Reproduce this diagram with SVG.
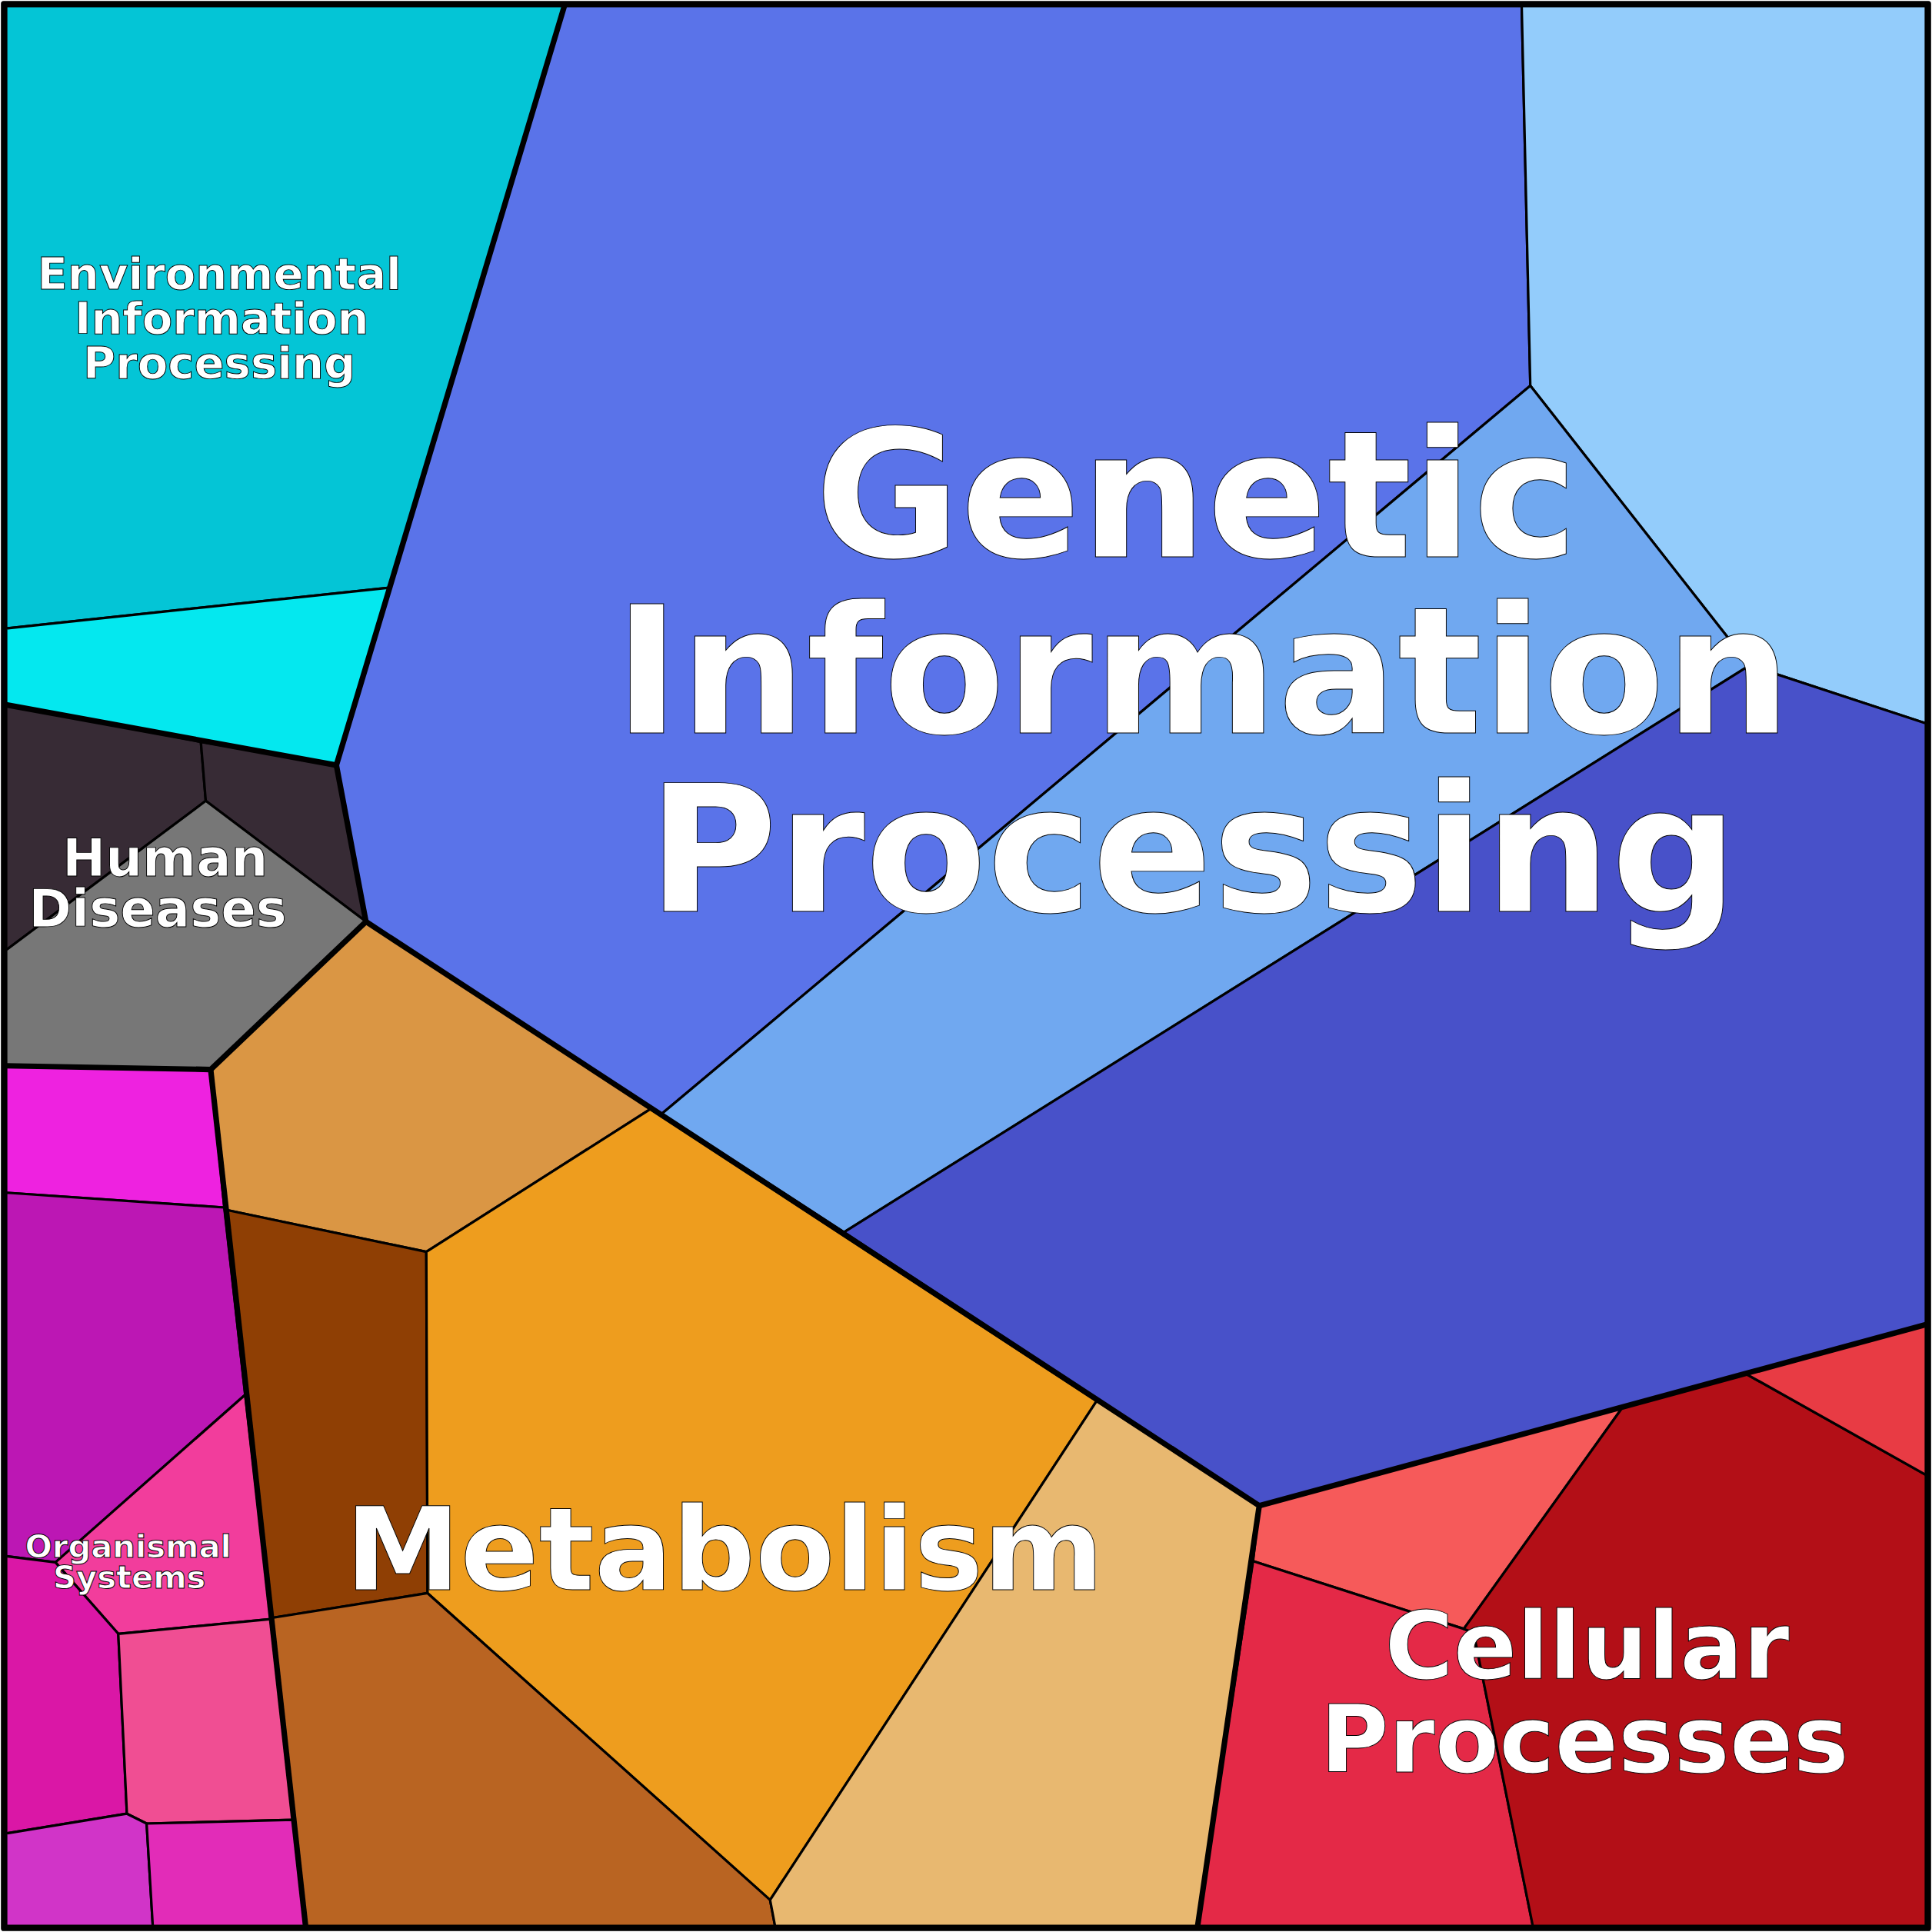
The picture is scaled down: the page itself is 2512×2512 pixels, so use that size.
<svg xmlns="http://www.w3.org/2000/svg" width="2512" height="2512" viewBox="0 0 2512 2512">
<style>
.c{stroke:#000;stroke-width:2;stroke-linejoin:round}
.b{fill:none;stroke:#000;stroke-width:4.5;stroke-linejoin:round}
text{font-family:"DejaVu Sans",sans-serif;font-weight:bold;fill:#fff;stroke:#000;stroke-width:0.6;text-anchor:middle}
</style>
<g transform="scale(1.60204)">
<g id="env">
<polygon class="c" fill="#04C5D6" points="5,5 458,5 316,477 5,510"/>
<polygon class="c" fill="#04E8EF" points="5,510 316,477 273,621 5,572"/>
</g>
<g id="human">
<polygon class="c" fill="#372B35" points="5,572 163,602 167,650 5,771"/>
<polygon class="c" fill="#372B35" points="163,602 273,621 297,748 167,650"/>
<polygon class="c" fill="#777777" points="5,771 167,650 297,748 171,868 5,865"/>
</g>
<g id="organismal">
<polygon class="c" fill="#EE22E0" points="5,865 171,868 182,980 5,968"/>
<polygon class="c" fill="#BC17B4" points="5,968 182,980 199,1132 45,1268 5,1263"/>
<polygon class="c" fill="#F23D9C" points="199,1132 220,1314 96,1326 45,1268"/>
<polygon class="c" fill="#DA17A6" points="5,1263 45,1268 96,1326 103,1472 5,1488"/>
<polygon class="c" fill="#F04E93" points="96,1326 220,1314 238,1477 119,1480 103,1472"/>
<polygon class="c" fill="#D134C8" points="5,1488 103,1472 119,1480 124,1563 5,1563"/>
<polygon class="c" fill="#E22CB8" points="119,1480 238,1477 248,1563 124,1563"/>
</g>
<g id="metabolism">
<polygon class="c" fill="#DA9644" points="171,868 297,748 528,900 346,1016 184,982"/>
<polygon class="c" fill="#8F3F04" points="184,982 346,1016 347,1293 221,1313"/>
<polygon class="c" fill="#EE9D1E" points="346,1016 528,900 890,1137 625,1542 347,1293"/>
<polygon class="c" fill="#B96422" points="221,1313 347,1293 625,1542 629,1563 248,1563"/>
<polygon class="c" fill="#E8B870" points="890,1137 1022,1222 972,1563 629,1563 625,1542"/>
</g>
<g id="genetic">
<polygon class="c" fill="#5A73E9" points="458,5 1235,5 1242,313 537,904 297,748 273,621"/>
<polygon class="c" fill="#93CCFB" points="1235,5 1563,5 1563,587 1420,540 1242,313"/>
<polygon class="c" fill="#70A8F0" points="537,904 1242,313 1420,540 685,1000"/>
<polygon class="c" fill="#4851C9" points="685,1000 1420,540 1563,587 1563,1075 1022,1222"/>
</g>
<g id="cellular">
<polygon class="c" fill="#F65A5A" points="1022,1222 1317,1142 1188,1322 1017,1267"/>
<polygon class="c" fill="#E42947" points="1017,1267 1188,1322 1196,1325 1244,1563 972,1563"/>
<polygon class="c" fill="#B30F17" points="1317,1142 1417,1115 1563,1197 1563,1563 1244,1563 1196,1325 1188,1322"/>
<polygon class="c" fill="#E83B44" points="1417,1115 1563,1075 1563,1197"/>
</g>
<g id="connectors">
<polyline class="b" points="458,5 273,621 5,572"/>
<polyline class="b" points="273,621 297,748 171,868 5,865"/>
<polyline class="b" points="171,868 248,1563"/>
<polyline class="b" points="297,748 1022,1222 972,1563"/>
<polyline class="b" points="1022,1222 1563,1075"/>
<rect class="b" x="3" y="3" width="1562" height="1562"/>
</g>
<g id="labels">
<text font-size="144" x="971" y="452">Genetic</text>
<text font-size="144" x="976" y="595">Information</text>
<text font-size="144" x="968" y="740">Processing</text>
<text font-size="94" x="588" y="1290">Metabolism</text>
<text font-size="76" x="1288" y="1362">Cellular</text>
<text font-size="76" x="1286" y="1438">Processes</text>
<text font-size="36" x="178" y="235">Environmental</text>
<text font-size="36" x="180" y="271">Information</text>
<text font-size="36" x="178" y="307">Processing</text>
<text font-size="42" x="134" y="711">Human</text>
<text font-size="42" x="128" y="752">Diseases</text>
<text font-size="26" x="104" y="1264">Organismal</text>
<text font-size="26" x="105" y="1289">Systems</text>
</g>
</g>
</svg>
